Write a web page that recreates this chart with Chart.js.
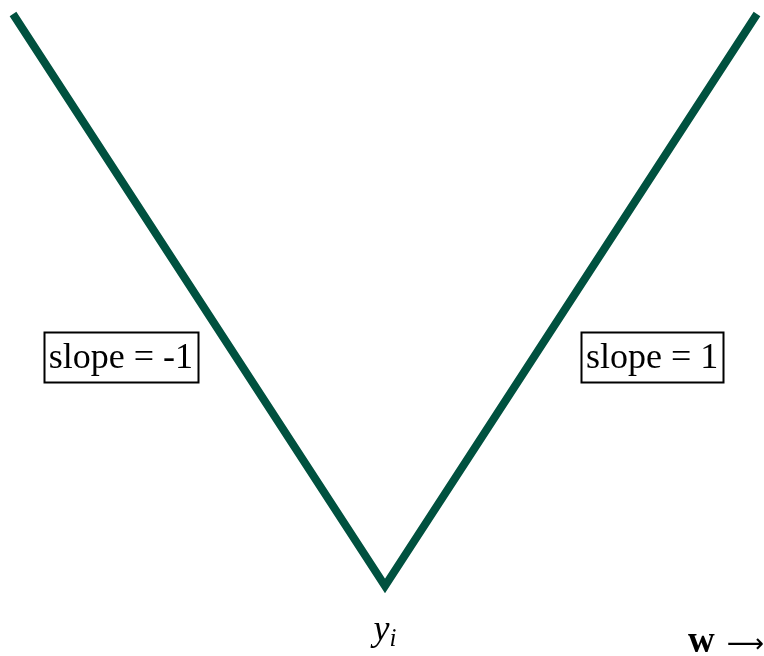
<!DOCTYPE html>
<html>
<head>
<meta charset="utf-8">
<script src="https://cdn.jsdelivr.net/npm/chart.js@4"></script>
<style>
  html, body { margin: 0; padding: 0; background: #fff; }
  #wrap { width: 764px; height: 656px; }
</style>
</head>
<body>
<div id="wrap"><canvas id="vChart"></canvas></div>
<script>
// absolute loss |w - y_i| around the target
const wValues = [-1, 0, 1];
const lossValues = [1, 0, 1];
const slopeLabels = ['slope = -1', 'slope = 1'];
const targetLabel = ['y', 'i'];
const axisLabel = ['w', '\u27F6'];

const lineColor = '#00513f';
const serif = '"Liberation Serif", "DejaVu Serif", serif';

// boxed slope labels, vertex label and axis arrow
const annotations = {
    id: 'annotations',
    afterDatasetsDraw(chart) {
        const ctx = chart.ctx;
        const x = chart.scales.x;
        const y = chart.scales.y;
        ctx.save();
        ctx.fillStyle = '#000';
        ctx.strokeStyle = '#000';
        ctx.textBaseline = 'middle';
        ctx.textAlign = 'center';
        ctx.font = '36px ' + serif;

        const boxes = [
            { cx: x.getPixelForValue(-0.71), text: slopeLabels[0] },
            { cx: x.getPixelForValue(0.718), text: slopeLabels[1] }
        ];
        const cy = y.getPixelForValue(0.40);
        boxes.forEach(b => {
            const w = ctx.measureText(b.text).width + 10;
            const h = 50;
            ctx.lineWidth = 2;
            ctx.strokeRect(Math.round(b.cx - w / 2) + 0.5, Math.round(cy - h / 2) + 0.5, Math.round(w), h);
            ctx.fillText(b.text, b.cx, cy + 1);
        });

        // y_i under the vertex
        const vx = x.getPixelForValue(0);
        ctx.textBaseline = 'alphabetic';
        ctx.textAlign = 'left';
        ctx.font = 'italic 36px ' + serif;
        const yw = ctx.measureText(targetLabel[0]).width;
        ctx.font = 'italic 25px ' + serif;
        const iw = ctx.measureText(targetLabel[1]).width;
        const startX = vx - (yw + iw) / 2;
        ctx.font = 'italic 36px ' + serif;
        ctx.fillText(targetLabel[0], startX, 640);
        ctx.font = 'italic 25px ' + serif;
        ctx.fillText(targetLabel[1], startX + yw, 646);

        // w arrow at the bottom right
        ctx.font = 'bold 37px ' + serif;
        ctx.fillText(axisLabel[0], 688, 652);
        ctx.font = '26px "DejaVu Sans", sans-serif';
        ctx.textAlign = 'right';
        ctx.fillText(axisLabel[1], 764, 652);
        ctx.restore();
    }
};

const ctx = document.getElementById('vChart').getContext('2d');
new Chart(ctx, {
    type: 'line',
    data: {
        datasets: [{
            data: wValues.map((w, i) => ({ x: w, y: lossValues[i] })),
            borderColor: lineColor,
            borderWidth: 8,
            borderJoinStyle: 'miter',
            borderCapStyle: 'butt',
            pointRadius: 0,
            tension: 0,
            fill: false,
            clip: false
        }]
    },
    options: {
        responsive: true,
        maintainAspectRatio: false,
        animation: false,
        layout: {
            padding: { left: 13, right: 7, top: 14, bottom: 70 }
        },
        scales: {
            x: { type: 'linear', min: -1, max: 1, display: false },
            y: { type: 'linear', min: 0, max: 1, display: false }
        },
        plugins: {
            legend: { display: false },
            tooltip: { enabled: false }
        }
    },
    plugins: [annotations]
});
</script>
</body>
</html>
